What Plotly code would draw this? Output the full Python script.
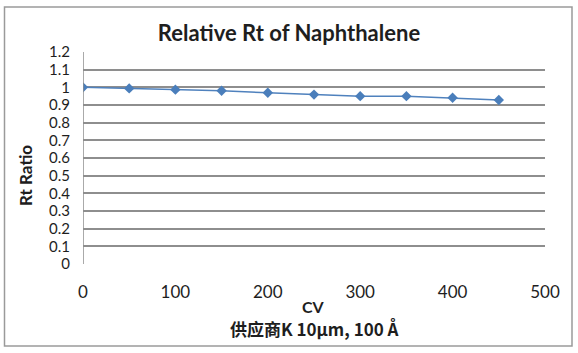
import plotly.graph_objects as go

cv = [0, 50, 100, 150, 200, 250, 300, 350, 400, 450]
rt_ratio = [1.0, 0.994, 0.987, 0.981, 0.969, 0.959, 0.950, 0.950, 0.941, 0.928]
y_ticks = [0, 0.1, 0.2, 0.3, 0.4, 0.5, 0.6, 0.7, 0.8, 0.9, 1.0, 1.1, 1.2]
y_tick_text = ["0", "0.1", "0.2", "0.3", "0.4", "0.5", "0.6", "0.7", "0.8", "0.9", "1", "1.1", "1.2"]
x_ticks = [0, 100, 200, 300, 400, 500]

W, H = 578, 353
L, R, T, B = 83, 33, 52, 89
pw, ph = W - L - R, H - T - B

def px_x(x):
    return (x - L) / pw

def px_y(y):
    return (H - B - y) / ph

font_main = "Lato, 'Open Sans', sans-serif"
grid_col = "#8e8e8e"
txt_col = "#1e1e1e"

fig = go.Figure()
fig.add_trace(go.Scatter(
    x=cv, y=rt_ratio, mode="lines+markers",
    line=dict(color="#4f81bd", width=1.5),
    marker=dict(symbol="diamond", size=8, color="#4a7ebb"),
    showlegend=False,
))

fig.update_layout(
    width=W, height=H,
    margin=dict(l=L, r=R, t=T, b=B),
    paper_bgcolor="white", plot_bgcolor="white",
    title=dict(text="<b>Relative Rt of Naphthalene</b>", x=289 / W, xref="container",
               xanchor="center", y=1 - 33 / H, yref="container", yanchor="middle",
               font=dict(family=font_main, size=22, color=txt_col)),
    xaxis=dict(range=[0, 500], tickvals=x_ticks, showgrid=False, zeroline=False,
               showline=False, ticks="", ticklen=0, ticklabelstandoff=16,
               tickfont=dict(family=font_main, size=17, color=txt_col)),
    yaxis=dict(range=[0, 1.2], tickvals=y_ticks, ticktext=y_tick_text,
               showgrid=True, gridcolor=grid_col, gridwidth=1.5, zeroline=False,
               showline=False, ticks="", ticklen=0, ticklabelstandoff=12,
               tickfont=dict(family=font_main, size=15, color=txt_col)),
)

# y axis line
fig.add_shape(type="line", xref="x", yref="paper", x0=0, x1=0, y0=0, y1=1,
              line=dict(color=grid_col, width=1.5))

# outer border
fig.add_shape(type="rect", xref="paper", yref="paper",
              x0=px_x(4.5), x1=px_x(572), y0=px_y(346), y1=px_y(7),
              line=dict(color="#9a9a9a", width=1.5), fillcolor="rgba(0,0,0,0)")

fig.add_annotation(text="<b>CV</b>", xref="paper", yref="paper", x=px_x(313), y=px_y(306),
                   showarrow=False, xanchor="center", yanchor="middle",
                   font=dict(family=font_main, size=16, color=txt_col))
fig.add_annotation(text="<b>供应商K 10μm, 100 Å</b>", xref="paper", yref="paper",
                   x=px_x(314), y=px_y(328), showarrow=False, xanchor="center",
                   yanchor="middle",
                   font=dict(family="'Noto Sans CJK SC', " + font_main, size=17, color=txt_col))
fig.add_annotation(text="<b>Rt Ratio</b>", xref="paper", yref="paper", x=px_x(25), y=px_y(176),
                   showarrow=False, xanchor="center", yanchor="middle", textangle=-90,
                   font=dict(family=font_main, size=17, color=txt_col))

fig.write_html("out.html")
